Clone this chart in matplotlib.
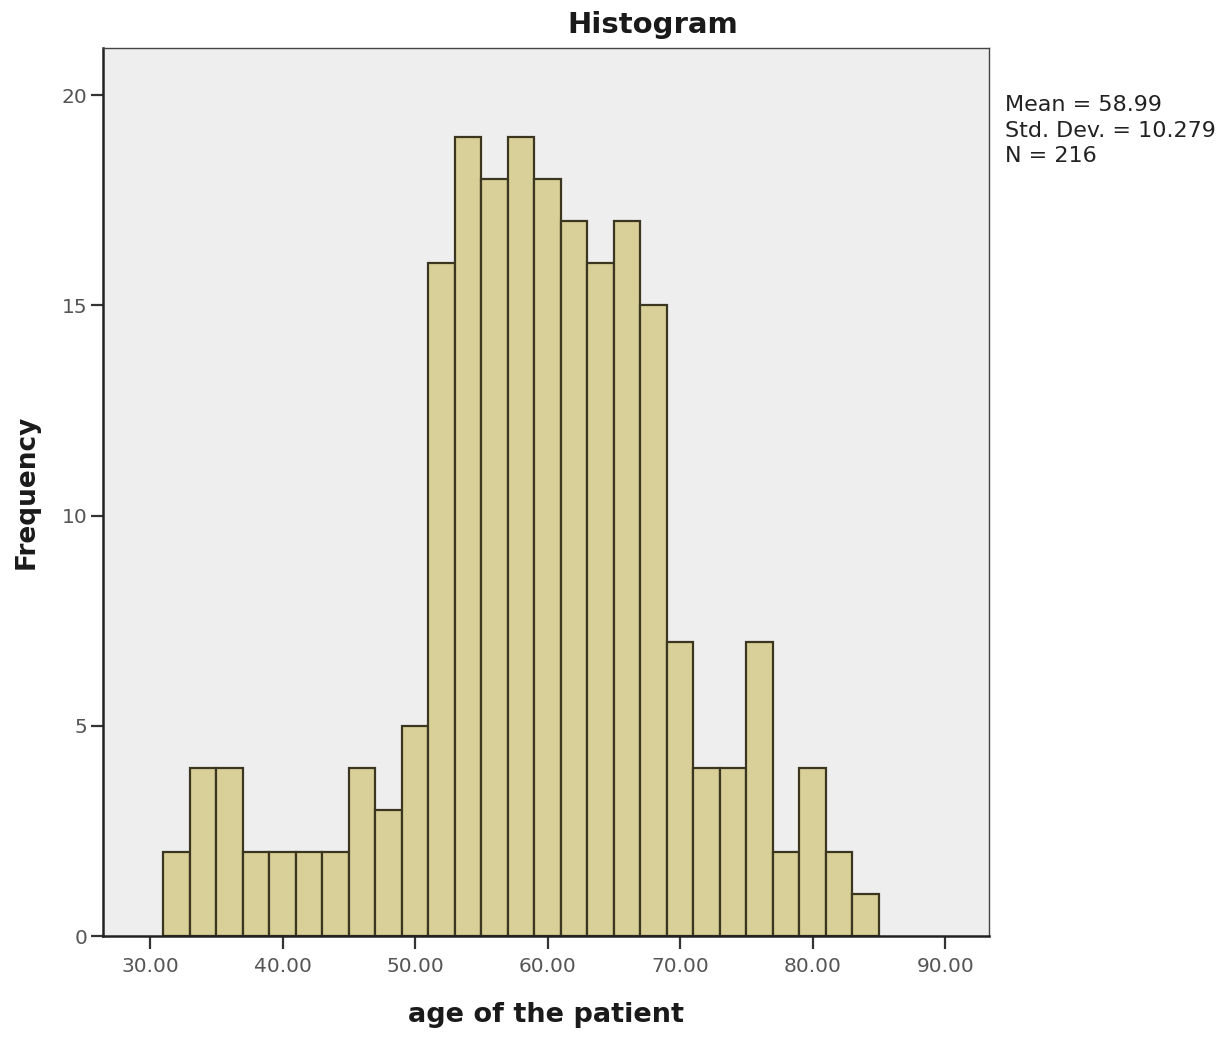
import matplotlib
matplotlib.use("Agg")
import matplotlib.pyplot as plt

# histogram of patient age, bin width 2 starting at 31
bin_edges = [31 + 2 * i for i in range(28)]
counts = [2, 4, 4, 2, 2, 2, 2, 4, 3, 5,
          16, 19, 18, 19, 18, 17, 16, 17, 15,
          7, 4, 4, 7, 2, 4, 2, 1]
x_ticks = [30, 40, 50, 60, 70, 80, 90]
y_ticks = [0, 5, 10, 15, 20]
stats_lines = ["Mean = 58.99", "Std. Dev. = 10.279", "N = 216"]

plt.rcParams['font.family'] = ['DejaVu Sans']

fig = plt.figure(figsize=(12.31, 10.38), dpi=100)
ax = fig.add_axes([103 / 1231, 1 - 936 / 1038, 886 / 1231, 888 / 1038])
ax.set_facecolor('#eeeeee')

widths = [bin_edges[i + 1] - bin_edges[i] for i in range(len(counts))]
ax.bar(bin_edges[:-1], counts, width=widths, align='edge',
       color='#d9cf98', edgecolor='#3b3620', linewidth=1.6)

ax.set_xlim(26.45, 93.3)
ax.set_ylim(0, 21.12)
ax.set_xticks(x_ticks)
ax.set_xticklabels([f"{t:.2f}" for t in x_ticks])
ax.set_yticks(y_ticks)
ax.tick_params(axis='both', labelsize=14.5, labelcolor='#555555',
               color='#333333', width=1.6, length=9)
ax.tick_params(axis='x', pad=6)
ax.tick_params(axis='y', pad=2)

for side in ['left', 'bottom']:
    ax.spines[side].set_color('#222222')
    ax.spines[side].set_linewidth(1.8)
for side in ['top', 'right']:
    ax.spines[side].set_color('#444444')
    ax.spines[side].set_linewidth(1.0)

ax.set_xlabel("age of the patient", fontsize=19.5, fontweight='bold',
              labelpad=19, color='#1a1a1a')
ax.set_ylabel("Frequency", fontsize=19, fontweight='bold',
              labelpad=16, color='#1a1a1a')

fig.text(653 / 1231, 1 - 25 / 1038, "Histogram", fontsize=21,
         fontweight='bold', ha='center', va='center', color='#1a1a1a')
fig.text(1005 / 1231, 1 - 95 / 1038, "\n".join(stats_lines), fontsize=16,
         ha='left', va='top', linespacing=1.35, color='#222222')

fig.savefig("out.png", dpi=100)
